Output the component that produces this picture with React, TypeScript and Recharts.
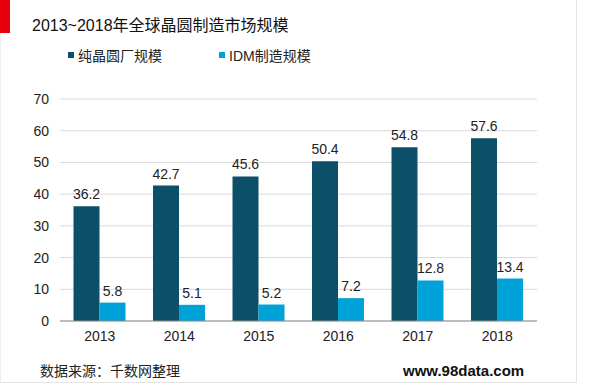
import React from 'react';
import { BarChart, Bar, XAxis, YAxis, CartesianGrid, LabelList, Legend } from 'recharts';

const years = ['2013', '2014', '2015', '2016', '2017', '2018'];
const foundry = [36.2, 42.7, 45.6, 50.4, 54.8, 57.6];
const idm = [5.8, 5.1, 5.2, 7.2, 12.8, 13.4];
const yTicks = [0, 10, 20, 30, 40, 50, 60, 70];
const seriesKeys = ['foundry', 'idm'];
const seriesNames = ['纯晶圆厂规模', 'IDM制造规模'];
const title = '2013~2018年全球晶圆制造市场规模';
const source = '数据来源：千数网整理';
const site = 'www.98data.com';

const data = years.map((y, i) => ({ year: y, foundry: foundry[i], idm: idm[i] }));

const FONT = '"Liberation Sans", Arial, "Noto Sans CJK SC", sans-serif';
const DARK = '#0C4F69';
const LIGHT = '#00A2DA';

const legendPos = [68, 219];

const renderLegend = (props: any) => {
  const { payload } = props;
  const items = seriesKeys
    .map((k) => (payload || []).find((p: any) => p.dataKey === k))
    .filter(Boolean);
  return (
    <div style={{ position: 'relative', width: 600, height: 20 }}>
      {items.map((p: any, i: number) => (
        <div
          key={i}
          style={{
            position: 'absolute',
            left: legendPos[i],
            top: 0,
            display: 'flex',
            alignItems: 'center',
            fontFamily: FONT,
            fontSize: 14,
            color: '#222',
            whiteSpace: 'nowrap',
          }}
        >
          <span style={{ display: 'inline-block', width: 6, height: 6, background: p.color, marginRight: 4 }} />
          <span>{p.value}</span>
        </div>
      ))}
    </div>
  );
};

export default function App() {
  return (
    <div style={{ position: 'absolute', left: 0, top: 0, width: 600, height: 385, background: '#fff', overflow: 'hidden' }}>
      <div style={{ position: 'absolute', left: 0, top: 0, width: 577, height: 383, borderRight: '1px solid #e4e4e4', borderBottom: '1px solid #e4e4e4', borderLeft: '1px solid #eeeeee', boxSizing: 'border-box' }} />
      <div style={{ position: 'absolute', left: 0, top: 0, width: 10, height: 33, background: '#E8000B' }} />
      <div style={{ position: 'absolute', left: 32, top: 15, fontFamily: FONT, fontSize: 16, lineHeight: '22px', color: '#111', whiteSpace: 'nowrap' }}>{title}</div>
      <BarChart
        width={600}
        height={385}
        data={data}
        margin={{ top: 79, right: 63, bottom: 34, left: 0 }}
        barCategoryGap="17%"
        barGap={0}
      >
        <CartesianGrid vertical={false} stroke="#d9d9d9" strokeWidth={1} />
        <XAxis
          dataKey="year"
          height={30}
          tickLine={false}
          axisLine={{ stroke: '#8c8c8c', strokeWidth: 1 }}
          tick={{ fontFamily: FONT, fontSize: 14, fill: '#222' }}
          tickMargin={4}
        />
        <YAxis
          width={60}
          domain={[0, 70]}
          ticks={yTicks}
          axisLine={false}
          tickLine={false}
          tickMargin={5}
          tick={{ fontFamily: FONT, fontSize: 14, fill: '#222' }}
        />
        <Legend
          verticalAlign="top"
          align="left"
          content={renderLegend}
          wrapperStyle={{ position: 'absolute', top: 45, left: 0, width: 600 }}
        />
        <Bar dataKey={seriesKeys[0]} name={seriesNames[0]} fill={DARK} isAnimationActive={false}>
          <LabelList dataKey={seriesKeys[0]} position="top" offset={7} style={{ fontFamily: FONT, fontSize: 14, fill: '#222' }} />
        </Bar>
        <Bar dataKey={seriesKeys[1]} name={seriesNames[1]} fill={LIGHT} isAnimationActive={false}>
          <LabelList dataKey={seriesKeys[1]} position="top" offset={7} style={{ fontFamily: FONT, fontSize: 14, fill: '#222' }} />
        </Bar>
      </BarChart>
      <div style={{ position: 'absolute', left: 40, top: 361, fontFamily: FONT, fontSize: 14, lineHeight: '20px', color: '#222', whiteSpace: 'nowrap' }}>{source}</div>
      <div style={{ position: 'absolute', left: 403, top: 361, fontFamily: FONT, fontSize: 15, fontWeight: 'bold', lineHeight: '20px', color: '#111', whiteSpace: 'nowrap' }}>{site}</div>
    </div>
  );
}
